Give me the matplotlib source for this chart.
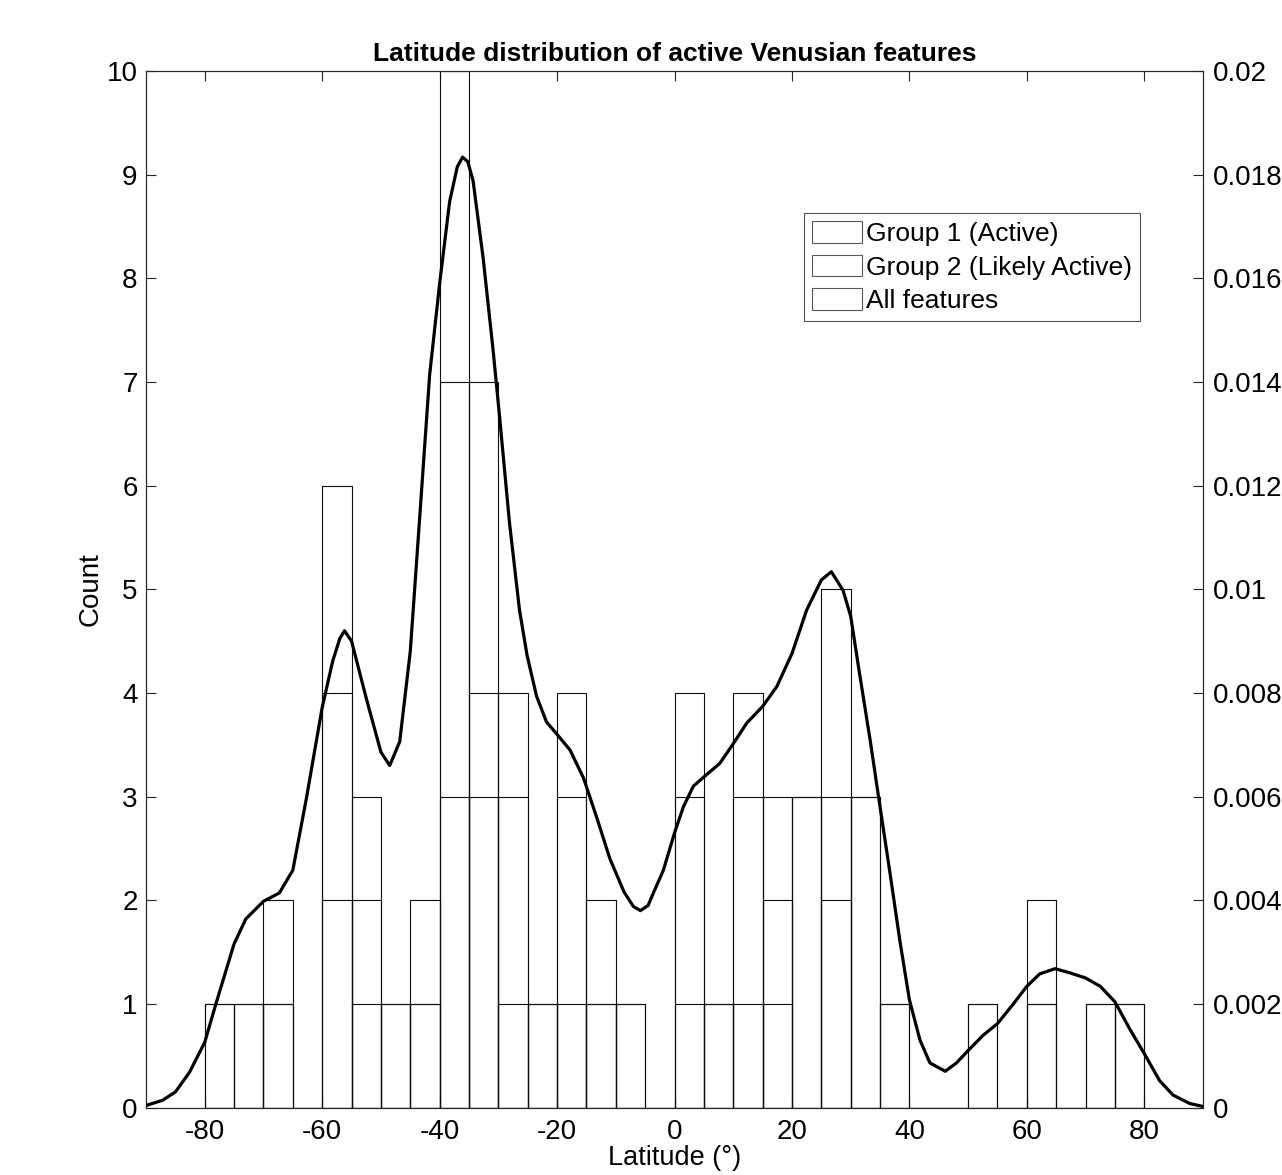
import matplotlib

matplotlib.use("Agg")
import matplotlib.pyplot as plt
import numpy as np
from matplotlib.patches import Patch

plt.rcParams["font.family"] = ["Liberation Sans", "DejaVu Sans"]
plt.rcParams["axes.unicode_minus"] = False

# 5-degree latitude bins, left edges
bin_left = np.arange(-80, 80, 5)
bin_width = 5

# counts per bin
group1 = [1, 0, 1, 0, 2, 1, 1, 1, 3, 3, 1, 0, 1, 1, 0, 0,
          1, 1, 1, 1, 3, 2, 0, 1, 0, 0, 1, 0, 1, 0, 0, 1]
group2 = [0, 1, 1, 0, 4, 2, 0, 1, 7, 4, 3, 1, 3, 1, 1, 0,
          3, 0, 3, 2, 0, 3, 3, 0, 0, 0, 0, 0, 1, 0, 1, 0]
all_feat = [1, 1, 2, 0, 6, 3, 1, 2, 10, 7, 4, 1, 4, 2, 1, 0,
            4, 1, 4, 3, 3, 5, 3, 1, 0, 0, 1, 0, 2, 0, 1, 1]

# density curve (right axis)
kde_lat = [-90, -87.2, -85, -82.6, -80, -78.1, -75, -73, -70, -67.3, -65, -62.7,
           -60, -58.2, -57, -56.2, -55, -52.5, -50, -48.5, -46.8, -45, -43.4, -41.7,
           -40, -38.3, -37, -36.1, -35.2, -34.3, -32.6, -30.9, -29.8, -28.1, -26.4, -25.1,
           -23.5, -21.8, -20, -17.8, -15.5, -13.2, -11, -8.6, -7, -5.8, -4.5, -3.6, -1.9,
           0, 1.5, 3.2, 5, 7.7, 10, 12.3, 15, 17.4, 20, 22.5, 25, 26.7, 28.7,
           30, 31.5, 33.3, 35, 36.7, 38.4, 40, 41.8, 43.5, 46.1, 48, 50, 52.6,
           55, 57.7, 60, 62.2, 64.8, 67.3, 70, 72.5, 75, 77.5, 80, 82.6, 84.9,
           87.7, 90]
kde_dens = [0.00004, 0.00014, 0.0003, 0.00068, 0.00126, 0.002, 0.00316, 0.00364,
            0.00398, 0.00414, 0.00458, 0.00596, 0.00772, 0.00862, 0.00905, 0.0092, 0.009,
            0.0079, 0.00686, 0.0066, 0.00706, 0.0088, 0.01138, 0.01414, 0.0159,
            0.01748, 0.01815, 0.01834, 0.01825, 0.01788, 0.0164, 0.01462, 0.01334, 0.01128,
            0.0096, 0.00872, 0.00794, 0.00744, 0.0072, 0.0069, 0.00636, 0.00558, 0.0048,
            0.00416, 0.00388, 0.0038, 0.0039, 0.00414, 0.00458, 0.0053, 0.0058, 0.0062,
            0.00638, 0.00664, 0.00702, 0.00742, 0.00774, 0.00812, 0.00876, 0.0096,
            0.01018, 0.01034, 0.00998, 0.00948, 0.00838, 0.0071, 0.0058, 0.00452,
            0.0032, 0.00208, 0.0013, 0.00086, 0.0007, 0.00086, 0.0011, 0.0014,
            0.00162, 0.002, 0.00234, 0.00258, 0.00268, 0.0026, 0.0025, 0.00234,
            0.00204, 0.00152, 0.00104, 0.00052, 0.00024, 0.00008, 0.00002]

series_labels = ["Group 1 (Active)", "Group 2 (Likely Active)", "All features"]
x_ticks = [-80, -60, -40, -20, 0, 20, 40, 60, 80]
y_ticks = list(range(0, 11))
dens_ticks = [0, 0.002, 0.004, 0.006, 0.008, 0.01, 0.012, 0.014, 0.016, 0.018, 0.02]
dens_labels = ["0", "0.002", "0.004", "0.006", "0.008", "0.01",
               "0.012", "0.014", "0.016", "0.018", "0.02"]

axis_col = "0.15"
fs = 20

fig = plt.figure(figsize=(12.82, 11.75), dpi=100)
ax = fig.add_axes([0.1139, 0.0574, 0.8245, 0.8821])

centres = bin_left + bin_width / 2
for counts in (group1, group2, all_feat):
    ax.bar(centres, counts, width=bin_width, fill=False,
           edgecolor="0.05", linewidth=0.8, zorder=2)

ax.set_xlim(-90, 90)
ax.set_ylim(0, 10)
ax.set_xticks(x_ticks)
ax.set_yticks(y_ticks)
ax.tick_params(direction="in", length=7, width=0.8, colors=axis_col,
               labelsize=fs, labelcolor="black", top=True, right=False, pad=6)
ax.tick_params(axis="x", pad=8)
for s in ax.spines.values():
    s.set_color(axis_col)
    s.set_linewidth(0.8)
ax.set_ylabel("Count", fontsize=fs, labelpad=2)
ax.set_xlabel("Latitude (\u00b0)", fontsize=19.5, labelpad=0)
ax.set_title("Latitude distribution of active Venusian features",
             fontsize=19, fontweight="bold", pad=7)

ax2 = ax.twinx()
ax2.plot(kde_lat, kde_dens, color="black", linewidth=2.3, zorder=3,
         solid_joinstyle="round")
ax2.set_ylim(0, 0.02)
ax2.set_yticks(dens_ticks)
ax2.set_yticklabels(dens_labels)
ax2.tick_params(direction="in", length=7, width=0.8, colors=axis_col,
                labelsize=fs, labelcolor="black", pad=7)
for s in ax2.spines.values():
    s.set_color(axis_col)
    s.set_linewidth(0.8)

handles = [Patch(facecolor="white", edgecolor="0.35", linewidth=0.8)
           for _ in series_labels]
leg = ax2.legend(handles, series_labels, loc="upper left",
                 bbox_to_anchor=(0.6225, 0.863), borderaxespad=0,
                 fontsize=19, frameon=True, fancybox=False,
                 handlelength=1.9, handleheight=0.9, handletextpad=0.15,
                 labelspacing=0.32, borderpad=0.3)
leg.get_frame().set_edgecolor(axis_col)
leg.get_frame().set_linewidth(0.8)

fig.savefig("out.png", dpi=100)
